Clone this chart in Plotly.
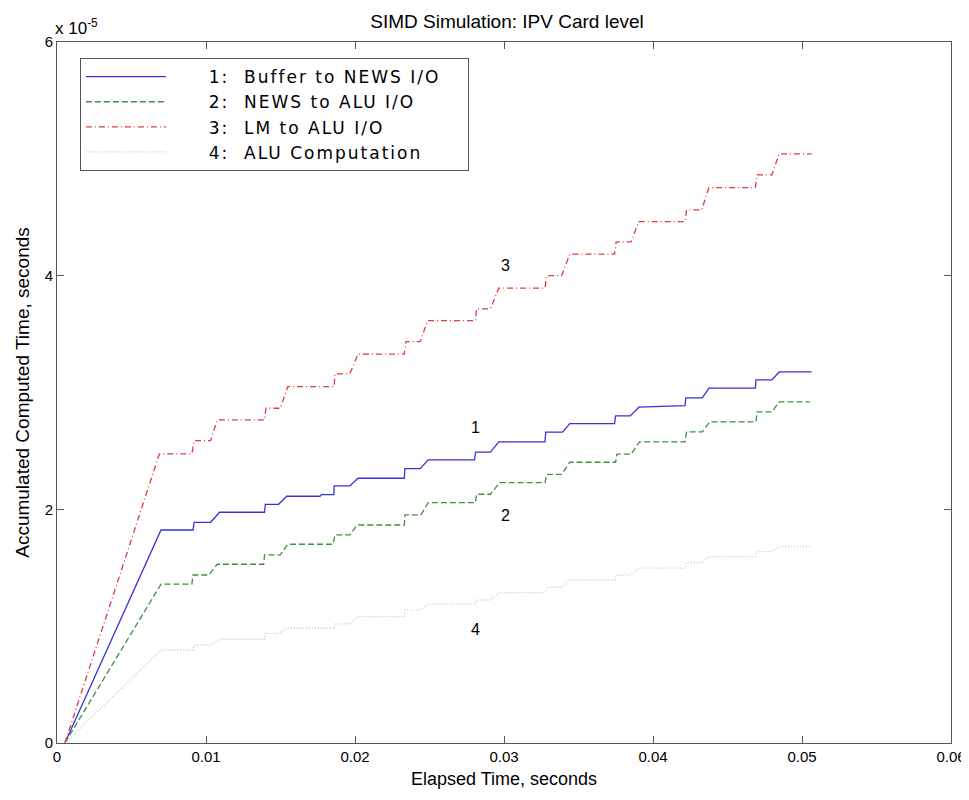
import plotly.graph_objects as go

# y values are in units of 1e-5 seconds (axis shows "x 10^-5")
x1 = [0.00053, 0.00698, 0.00913, 0.00920, 0.01031, 0.01091, 0.01393, 0.01398, 0.01487, 0.01542,
      0.01765, 0.01775, 0.01858, 0.01860, 0.01965, 0.02020, 0.02331, 0.02335, 0.02438, 0.02491,
      0.02802, 0.02809, 0.02909, 0.02965, 0.03275, 0.03280, 0.03393, 0.03442, 0.03742, 0.03749,
      0.03847, 0.03905, 0.04215, 0.04220, 0.04331, 0.04375, 0.04687, 0.04691, 0.04798, 0.04847, 0.05065]
y1 = [0.0, 1.823, 1.823, 1.889, 1.889, 1.975, 1.975, 2.043, 2.043, 2.112,
      2.112, 2.126, 2.126, 2.200, 2.200, 2.266, 2.266, 2.348, 2.348, 2.423,
      2.423, 2.490, 2.490, 2.577, 2.577, 2.660, 2.660, 2.734, 2.734, 2.800,
      2.800, 2.874, 2.888, 2.954, 2.954, 3.037, 3.037, 3.108, 3.108, 3.176, 3.176]

x2 = [0.00053, 0.00698, 0.00905, 0.00913, 0.01020, 0.01075, 0.01387, 0.01393, 0.01498, 0.01549,
      0.01853, 0.01865, 0.01965, 0.02015, 0.02331, 0.02335, 0.02442, 0.02491, 0.02809, 0.02815,
      0.02909, 0.02971, 0.03275, 0.03287, 0.03387, 0.03442, 0.03749, 0.03758, 0.03853, 0.03909,
      0.04215, 0.04225, 0.04331, 0.04380, 0.04691, 0.04698, 0.04798, 0.04847, 0.05053]
y2 = [0.0, 1.359, 1.359, 1.438, 1.438, 1.530, 1.530, 1.610, 1.610, 1.701,
      1.701, 1.781, 1.781, 1.866, 1.866, 1.952, 1.952, 2.057, 2.057, 2.129,
      2.129, 2.229, 2.229, 2.300, 2.300, 2.403, 2.403, 2.472, 2.472, 2.577,
      2.577, 2.663, 2.663, 2.748, 2.748, 2.834, 2.834, 2.919, 2.919]

x3 = [0.00053, 0.00687, 0.00905, 0.00920, 0.01031, 0.01075, 0.01393, 0.01402, 0.01498, 0.01549,
      0.01860, 0.01865, 0.01965, 0.02020, 0.02331, 0.02342, 0.02438, 0.02487, 0.02809, 0.02815,
      0.02909, 0.02965, 0.03275, 0.03287, 0.03387, 0.03442, 0.03742, 0.03753, 0.03853, 0.03905,
      0.04215, 0.04225, 0.04327, 0.04375, 0.04687, 0.04698, 0.04798, 0.04847, 0.05065]
y3 = [0.0, 2.474, 2.474, 2.588, 2.588, 2.765, 2.765, 2.865, 2.865, 3.050,
      3.050, 3.159, 3.159, 3.328, 3.328, 3.436, 3.436, 3.615, 3.615, 3.716,
      3.716, 3.893, 3.893, 4.001, 4.001, 4.184, 4.184, 4.289, 4.289, 4.463,
      4.463, 4.563, 4.563, 4.754, 4.754, 4.863, 4.863, 5.043, 5.043]

x4 = [0.00053, 0.00698, 0.00913, 0.00920, 0.01031, 0.01091, 0.01393, 0.01398, 0.01487, 0.01542,
      0.01860, 0.01865, 0.01965, 0.02020, 0.02331, 0.02335, 0.02438, 0.02491, 0.02809, 0.02815,
      0.02909, 0.02965, 0.03275, 0.03287, 0.03387, 0.03442, 0.03745, 0.03753, 0.03850, 0.03905,
      0.04215, 0.04225, 0.04331, 0.04375, 0.04687, 0.04695, 0.04798, 0.04847, 0.05065]
y4 = [0.0, 0.796, 0.796, 0.839, 0.839, 0.888, 0.888, 0.939, 0.939, 0.982,
      0.982, 1.019, 1.019, 1.081, 1.081, 1.139, 1.139, 1.190, 1.190, 1.224,
      1.224, 1.287, 1.287, 1.333, 1.333, 1.395, 1.395, 1.438, 1.438, 1.496,
      1.496, 1.544, 1.544, 1.595, 1.595, 1.638, 1.638, 1.681, 1.681]

NB = "\u00a0"
legend_labels = ["1:" + NB * 2 + "Buffer to NEWS I/O",
                 "2:" + NB * 2 + "NEWS to ALU I/O",
                 "3:" + NB * 2 + "LM to ALU I/O",
                 "4:" + NB * 2 + "ALU Computation"]
names = [NB * 7 + '<span style="letter-spacing:2px">' + s + "</span>" for s in legend_labels]
names[0] = names[0] + NB * 4
colors = ["#3535d2", "#3a923a", "#e03c3c", "#9ed6d6"]
dashes = ["solid", "6px,3px", "6px,3px,1px,3px", "1px,2px"]

label_text = ["1", "2", "3", "4"]
label_x = [0.0281, 0.0301, 0.0301, 0.0281]
label_y = [2.70, 1.95, 4.09, 0.97]

xticks = [0, 0.01, 0.02, 0.03, 0.04, 0.05, 0.06]
yticks = [0, 2, 4, 6]

fig = go.Figure()
for xs, ys, nm, c, d in zip([x1, x2, x3, x4], [y1, y2, y3, y4], names, colors, dashes):
    fig.add_trace(go.Scatter(x=xs, y=ys, mode="lines", name=nm,
                             line=dict(color=c, width=1.3, dash=d)))

for t, lx, ly in zip(label_text, label_x, label_y):
    fig.add_annotation(x=lx, y=ly, text=t, showarrow=False,
                       font=dict(size=16, color="black"))

fig.add_annotation(xref="paper", yref="paper", x=0, y=1, xanchor="left", yanchor="bottom",
                   yshift=2, xshift=-4, text="x 10<sup>-5</sup>", showarrow=False,
                   font=dict(size=17, color="black"))

axis_common = dict(showline=True, linecolor="#555555", linewidth=1, mirror="ticks",
                   ticks="inside", ticklen=7, tickcolor="#555555", showgrid=False,
                   zeroline=False, automargin=False, ticklabeloverflow="allow",
                   tickfont=dict(size=15, color="black"))

# the page body has an 8px margin, so the figure is sized to sit inside the window
fig.update_layout(
    width=961, height=792,
    paper_bgcolor="white", plot_bgcolor="white",
    font=dict(family="Liberation Sans, Arial, sans-serif", color="black"),
    margin=dict(l=49, r=18, t=34, b=57),
    title=dict(text="SIMD Simulation: IPV Card level", x=499 / 961, xanchor="center",
               y=1 - 13 / 792, yanchor="middle", font=dict(size=19)),
    xaxis=dict(range=[0, 0.06], tickvals=xticks, ticktext=[("%g" % v) for v in xticks],
               title=dict(text="Elapsed Time, seconds", font=dict(size=18), standoff=8),
               **axis_common),
    yaxis=dict(range=[0, 6], tickvals=yticks, ticktext=[str(v) for v in yticks],
               title=dict(text="Accumulated Computed Time, seconds", font=dict(size=19), standoff=10),
               **axis_common),
    legend=dict(x=0.0256, y=0.977, xanchor="left", yanchor="top",
                bordercolor="#555555", borderwidth=1, bgcolor="white",
                font=dict(size=17, family="DejaVu Sans, sans-serif"), itemwidth=80, tracegroupgap=0),
    showlegend=True,
)

fig.write_html("out.html")
